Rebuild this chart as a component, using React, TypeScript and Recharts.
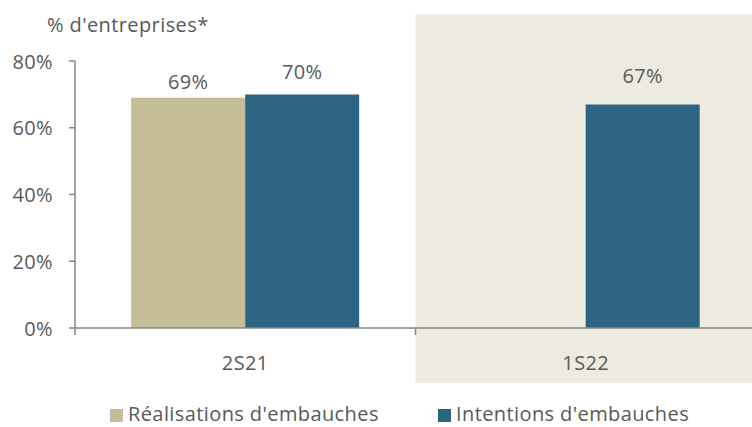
import React from 'react';
import { BarChart, Bar, XAxis, YAxis, ReferenceArea, LabelList, Legend } from 'recharts';

const categories = ['2S21', '1S22'];
const realisations: (number | null)[] = [69, null];
const intentions: (number | null)[] = [70, 67];
const yTicks = [0, 20, 40, 60, 80];
const seriesNames = ["Réalisations d'embauches", "Intentions d'embauches"];
const shadedCategory = '1S22';
const shadedSpan = [-16.5, 94];
const axisTitle = "% d'entreprises*";

// label gaps above each bar (styling only)
const realisationsLabelGap = [9, 9];
const intentionsLabelGap = [15, 21];

const data = categories.map((c, i) => ({
  cat: c,
  realisations: realisations[i],
  intentions: intentions[i],
}));

const FONT = '"Open Sans", Lato, sans-serif';
const FS = 20;
const LS = '0.4px';
const TEXT = '#595959';
const AXIS = '#868686';
const BEIGE = '#C4BD97';
const BLUE = '#2C6482';
const SHADE = '#EDEAE0';

const XTick = (props: any) => {
  const { x, y, payload, index, visibleTicksCount, width } = props;
  const half =
    payload && typeof payload.offset === 'number' && payload.offset > 0
      ? payload.offset
      : width / (2 * visibleTicksCount);
  return (
    <g>
      <line x1={x - half} x2={x - half} y1={y} y2={y + 7} stroke={AXIS} strokeWidth={1.5} />
      {index === visibleTicksCount - 1 && (
        <line x1={x + half} x2={x + half} y1={y} y2={y + 7} stroke={AXIS} strokeWidth={1.5} />
      )}
      <text
        x={x}
        y={y + 34}
        textAnchor="middle"
        dominantBaseline="central"
        fill={TEXT}
        fontSize={FS}
        fontFamily={FONT}
        letterSpacing={LS}
      >
        {payload.value}
      </text>
    </g>
  );
};

const YTick = (props: any) => {
  const { x, y, payload } = props;
  return (
    <text
      x={x - 16}
      y={y}
      textAnchor="end"
      dominantBaseline="central"
      fill={TEXT}
      fontSize={FS}
      fontFamily={FONT}
      letterSpacing={LS}
    >
      {`${payload.value}%`}
    </text>
  );
};

const makeLabel = (gaps: number[]) => (p: any) => {
  const { x, y, width, value, index } = p;
  if (value === null || value === undefined) return null;
  return (
    <text
      x={x + width / 2}
      y={y - gaps[index]}
      textAnchor="middle"
      fill={TEXT}
      fontSize={FS}
      fontFamily={FONT}
      letterSpacing={LS}
    >
      {`${value}%`}
    </text>
  );
};

const LegendContent = () => {
  const colors = [BEIGE, BLUE];
  return (
    <div
      style={{
        display: 'flex',
        alignItems: 'center',
        paddingLeft: 110,
        paddingTop: 11,
        height: 37,
        fontFamily: FONT,
        fontSize: FS,
        letterSpacing: LS,
        lineHeight: '26px',
        color: TEXT,
        boxSizing: 'border-box',
      }}
    >
      {seriesNames.map((n, i) => (
        <div key={n} style={{ display: 'flex', alignItems: 'center', width: i === 0 ? 328 : undefined }}>
          <span style={{ display: 'inline-block', width: 13, height: 13, background: colors[i], marginRight: 5, marginTop: 2 }} />
          <span style={{ whiteSpace: 'nowrap' }}>{n}</span>
        </div>
      ))}
    </div>
  );
};

export default function App() {
  return (
    <div style={{ position: 'absolute', left: 0, top: 0, width: 752, height: 427, background: '#fff', overflow: 'hidden' }}>
      <div
        style={{
          position: 'absolute',
          left: 47,
          top: 12,
          fontFamily: FONT,
          fontSize: FS,
          letterSpacing: LS,
          color: TEXT,
          lineHeight: '26px',
          whiteSpace: 'nowrap',
        }}
      >
        {axisTitle}
      </div>
      <BarChart
        width={752}
        height={427}
        data={data}
        margin={{ top: 61, right: -4, bottom: 0, left: 0 }}
        barCategoryGap="16.5%"
        barGap={0}
      >
        <ReferenceArea
          x1={shadedCategory}
          x2={shadedCategory}
          y1={shadedSpan[0]}
          y2={shadedSpan[1]}
          ifOverflow="visible"
          fill={SHADE}
          fillOpacity={1}
          stroke="none"
        />
        <XAxis
          dataKey="cat"
          height={62}
          tickSize={0}
          tickMargin={0}
          tickLine={false}
          axisLine={{ stroke: AXIS, strokeWidth: 1.5 }}
          tick={<XTick />}
          interval={0}
        />
        <YAxis
          width={75}
          domain={[0, 80]}
          ticks={yTicks}
          tickSize={6}
          tickMargin={0}
          axisLine={{ stroke: AXIS, strokeWidth: 1.5 }}
          tickLine={{ stroke: AXIS, strokeWidth: 1.5 }}
          tick={<YTick />}
          allowDataOverflow
        />
        <Bar dataKey="realisations" name={seriesNames[0]} fill={BEIGE} isAnimationActive={false}>
          <LabelList dataKey="realisations" content={makeLabel(realisationsLabelGap)} />
        </Bar>
        <Bar dataKey="intentions" name={seriesNames[1]} fill={BLUE} isAnimationActive={false}>
          <LabelList dataKey="intentions" content={makeLabel(intentionsLabelGap)} />
        </Bar>
        <Legend verticalAlign="bottom" height={37} content={<LegendContent />} />
      </BarChart>
    </div>
  );
}
